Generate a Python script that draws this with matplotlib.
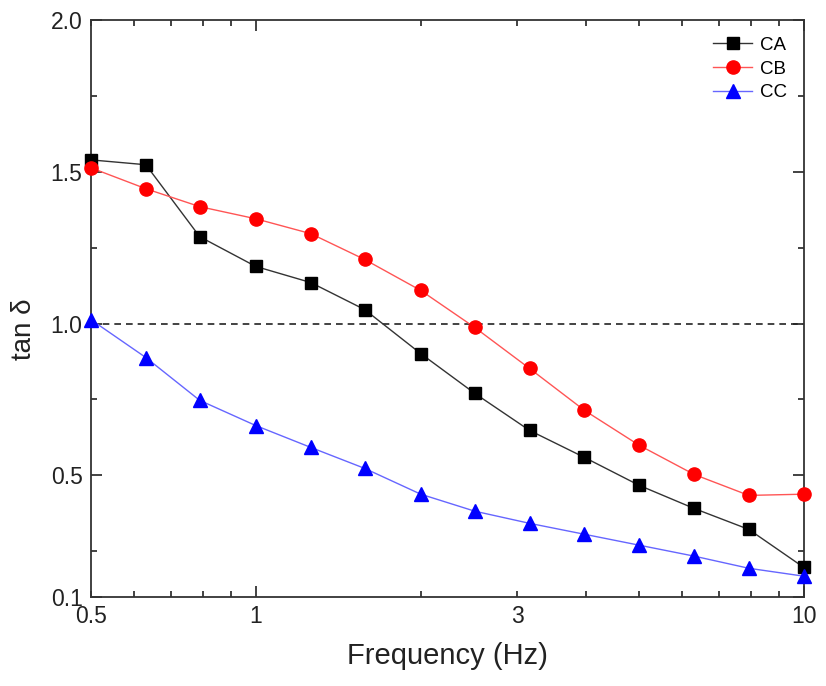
import matplotlib
matplotlib.use("Agg")
import matplotlib.pyplot as plt
from matplotlib.ticker import FixedLocator, FixedFormatter

plt.rcParams['font.family'] = ['Liberation Sans', 'DejaVu Sans']

freq = [0.5, 0.63, 0.79, 1.0, 1.26, 1.58, 2.0, 2.51, 3.16, 3.98, 5.01, 6.31, 7.94, 10.0]
ca = [1.539, 1.523, 1.286, 1.188, 1.135, 1.046, 0.901, 0.770, 0.648, 0.559, 0.467, 0.391, 0.322, 0.197]
cb = [1.513, 1.444, 1.385, 1.345, 1.296, 1.211, 1.109, 0.987, 0.852, 0.714, 0.599, 0.503, 0.434, 0.438]
cc = [1.013, 0.888, 0.747, 0.664, 0.592, 0.523, 0.438, 0.382, 0.342, 0.306, 0.270, 0.234, 0.194, 0.168]

fig = plt.figure(figsize=(8.26, 6.86), dpi=100)
ax = fig.add_axes([0.110, 0.130, 0.863, 0.841])

ax.plot(freq, ca, color='#333333', lw=1.0, marker='s', ms=8, mfc='black', mec='black', label='CA', clip_on=False, zorder=3)
ax.plot(freq, cb, color='#ff5555', lw=1.0, marker='o', ms=9.5, mfc='red', mec='red', label='CB', clip_on=False, zorder=3)
ax.plot(freq, cc, color='#6666ff', lw=1.0, marker='^', ms=9.5, mfc='blue', mec='blue', label='CC', clip_on=False, zorder=3)
ax.axhline(1.0, color='#222222', lw=1.2, ls=(0, (4, 3)), zorder=2)

ax.set_xscale('log')
ax.set_xlim(0.5, 10)
ax.set_ylim(0.1, 2.0)

ax.xaxis.set_major_locator(FixedLocator([1, 10]))
ax.xaxis.set_major_formatter(FixedFormatter(['1', '10']))
minor_x = [0.5, 0.6, 0.7, 0.8, 0.9, 2, 3, 4, 5, 6, 7, 8, 9]
ax.xaxis.set_minor_locator(FixedLocator(minor_x))
ax.xaxis.set_minor_formatter(FixedFormatter(['0.5' if v == 0.5 else ('3' if v == 3 else '') for v in minor_x]))

ax.set_yticks([0.1, 0.5, 1.0, 1.5, 2.0])
ax.set_yticklabels(['0.1', '0.5', '1.0', '1.5', '2.0'])
ax.set_yticks([0.25, 0.75, 1.25, 1.75], minor=True)

ax.tick_params(which='both', direction='in', top=True, right=True, labelsize=16.5, width=1.2, colors='#222222', labelcolor='#222222')
ax.tick_params(which='major', length=8, pad=6)
ax.tick_params(which='minor', length=4, pad=6)
for s in ax.spines.values():
    s.set_linewidth(1.3)
    s.set_color('#333333')

ax.set_xlabel('Frequency (Hz)', fontsize=21, color='#222222', labelpad=10)
ax.set_ylabel('tan δ', fontsize=20, color='#222222', labelpad=10)
ax.yaxis.set_label_coords(-0.076, 0.463)

ax.legend(loc='upper right', frameon=False, fontsize=13.5, handlelength=2.1, handletextpad=0.4,
          labelspacing=0.35, borderaxespad=0.5)

fig.savefig('out.png', dpi=100)
